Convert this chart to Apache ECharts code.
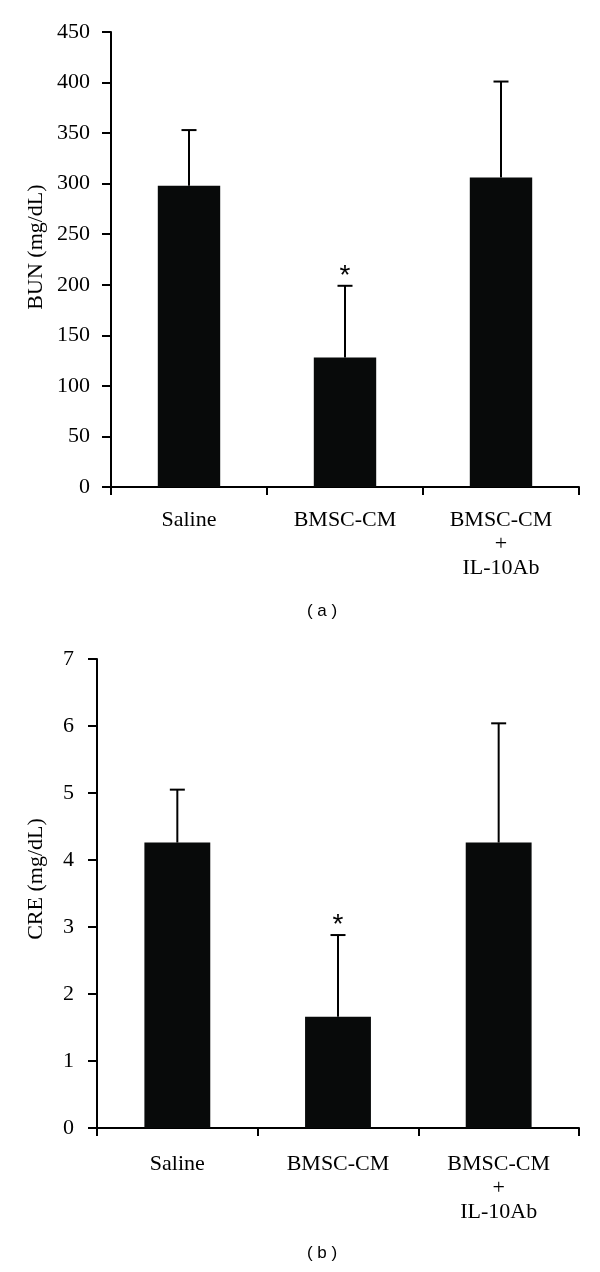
<!DOCTYPE html>
<html><head><meta charset="utf-8">
<script src="https://cdn.jsdelivr.net/npm/echarts@6/dist/echarts.min.js"></script>
<style>html,body{margin:0;padding:0;background:#fff}#c{width:600px;height:1272px}</style>
</head><body><div id="c"></div>
<script>
const categories = ['Saline', 'BMSC-CM', 'BMSC-CM\n+\nIL-10Ab'];
const bunMean = [298, 128, 306];
const bunSD = [55, 71, 95];
const creMean = [4.26, 1.66, 4.26];
const creSD = [0.79, 1.22, 1.78];
const significance = ['', '*', ''];
const bunAxis = { name: 'BUN (mg/dL)', min: 0, max: 450, interval: 50 };
const creAxis = { name: 'CRE (mg/dL)', min: 0, max: 7, interval: 1 };
const panelLabels = ['( a )', '( b )'];

const SERIF = '"Liberation Serif", "DejaVu Serif", serif';
const chart = echarts.init(document.getElementById('c'), null, { renderer: 'canvas' });

function errRender(params, api) {
  const x = api.value(0);
  const mean = api.value(1);
  const top = mean + api.value(2);
  const b = api.coord([x, mean]);
  const t = api.coord([x, top]);
  const children = [
    { type: 'line', shape: { x1: b[0], y1: b[1], x2: t[0], y2: t[1] }, style: { stroke: '#000', lineWidth: 2 } },
    { type: 'line', shape: { x1: t[0] - 7.5, y1: t[1], x2: t[0] + 7.5, y2: t[1] }, style: { stroke: '#000', lineWidth: 2 } }
  ];
  const s = significance[params.dataIndex];
  if (s) {
    children.push({ type: 'text', style: { text: s, x: t[0], y: t[1] - 10, align: 'center', verticalAlign: 'middle', font: '28px "Liberation Sans", sans-serif', fill: '#000' } });
  }
  return { type: 'group', children };
}

function xAxisCfg(gi, margin) {
  return {
    type: 'category', gridIndex: gi, data: categories,
    axisLine: { lineStyle: { color: '#000', width: 2 } },
    axisTick: { show: true, length: 8, lineStyle: { color: '#000', width: 2 } },
    axisLabel: { color: '#000', fontFamily: SERIF, fontSize: 22, lineHeight: 24, margin: margin }
  };
}
function yAxisCfg(gi, a, margin) {
  return {
    type: 'value', gridIndex: gi, min: a.min, max: a.max, interval: a.interval,
    axisLine: { show: true, lineStyle: { color: '#000', width: 2 } },
    axisTick: { show: true, length: 9, lineStyle: { color: '#000', width: 2 } },
    axisLabel: { color: '#000', fontFamily: SERIF, fontSize: 22, margin: margin },
    splitLine: { show: false }
  };
}

const option = {
  backgroundColor: '#fff',
  animation: false,
  grid: [
    { left: 111, right: 21, top: 32, height: 455 },
    { left: 97, right: 21, top: 659, height: 469 }
  ],
  xAxis: [xAxisCfg(0, 21), xAxisCfg(1, 24)],
  yAxis: [yAxisCfg(0, bunAxis, 21), yAxisCfg(1, creAxis, 23)],
  graphic: [
    { type: 'text', x: 36, y: 247, rotation: Math.PI / 2, style: { text: bunAxis.name, align: 'center', verticalAlign: 'middle', font: '22px ' + SERIF, fill: '#000' } },
    { type: 'text', x: 36, y: 879, rotation: Math.PI / 2, style: { text: creAxis.name, align: 'center', verticalAlign: 'middle', font: '22px ' + SERIF, fill: '#000' } },
    { type: 'text', x: 322, y: 611, style: { text: panelLabels[0], align: 'center', verticalAlign: 'middle', font: '17px "Liberation Sans", sans-serif', fill: '#000' } },
    { type: 'text', x: 322, y: 1253, style: { text: panelLabels[1], align: 'center', verticalAlign: 'middle', font: '17px "Liberation Sans", sans-serif', fill: '#000' } }
  ],
  series: [
    { type: 'bar', xAxisIndex: 0, yAxisIndex: 0, data: bunMean, barWidth: '40%', itemStyle: { color: '#080a0a' } },
    { type: 'custom', xAxisIndex: 0, yAxisIndex: 0, renderItem: errRender, z: 5,
      data: bunMean.map((m, i) => [i, m, bunSD[i]]) },
    { type: 'bar', xAxisIndex: 1, yAxisIndex: 1, data: creMean, barWidth: '41%', itemStyle: { color: '#080a0a' } },
    { type: 'custom', xAxisIndex: 1, yAxisIndex: 1, renderItem: errRender, z: 5,
      data: creMean.map((m, i) => [i, m, creSD[i]]) }
  ]
};
chart.setOption(option);
</script></body></html>
